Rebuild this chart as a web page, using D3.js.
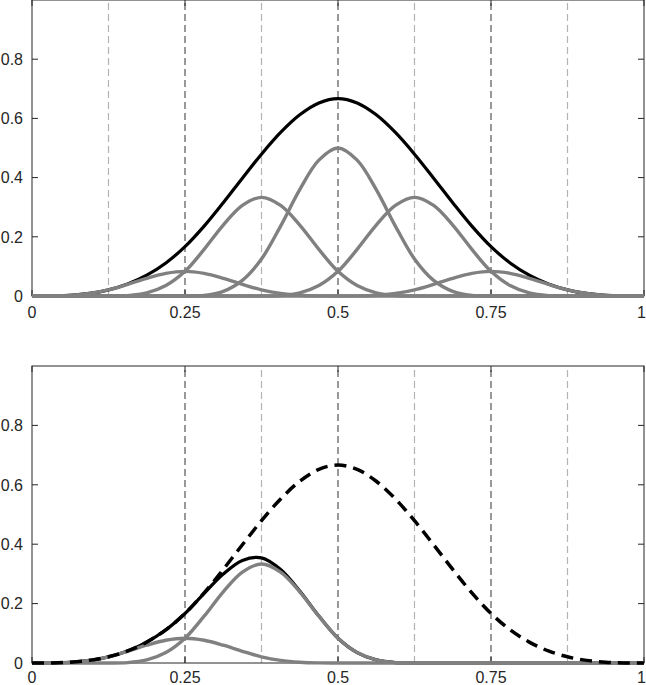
<!DOCTYPE html>
<html>
<head>
<meta charset="utf-8">
<script src="https://cdn.jsdelivr.net/npm/d3@7"></script>
<style>
html,body{margin:0;padding:0;background:#fff;}
svg{display:block;}
text{font-family:"Liberation Sans",Arial,Helvetica,sans-serif;font-size:16px;fill:#262626;}
</style>
</head>
<body>
<svg id="chart" width="646" height="685"></svg>
<script>
// ---- data ----
const xs = [0,0.03125,0.0625,0.09375,0.125,0.15625,0.1875,0.21875,0.25,0.28125,0.3125,0.34375,0.375,0.40625,0.4375,0.46875,0.5,
  0.53125,0.5625,0.59375,0.625,0.65625,0.6875,0.71875,0.75,0.78125,0.8125,0.84375,0.875,0.90625,0.9375,0.96875,1];

const parent = [0,0.0003,0.0026,0.0088,0.0208,0.0407,0.0703,0.1117,0.1667,0.2360,0.3151,0.3981,0.4792,0.5524,0.6120,0.6520,0.6667,
  0.6520,0.6120,0.5524,0.4792,0.3981,0.3151,0.2360,0.1667,0.1117,0.0703,0.0407,0.0208,0.0088,0.0026,0.0003,0];

const child1 = [0,0.0003,0.0026,0.0088,0.0208,0.0394,0.0599,0.0765,0.0833,0.0765,0.0599,0.0394,0.0208,0.0088,0.0026,0.0003,0,
  0,0,0,0,0,0,0,0,0,0,0,0,0,0,0,0];
const child2 = [0,0,0,0,0,0.0013,0.0104,0.0352,0.0833,0.1576,0.2396,0.3060,0.3333,0.3060,0.2396,0.1576,0.0833,
  0.0352,0.0104,0.0013,0,0,0,0,0,0,0,0,0,0,0,0,0];
const child3 = [0,0,0,0,0,0,0,0,0,0.0020,0.0156,0.0527,0.1250,0.2363,0.3594,0.4590,0.5000,
  0.4590,0.3594,0.2363,0.1250,0.0527,0.0156,0.0020,0,0,0,0,0,0,0,0,0];
const child4 = [0,0,0,0,0,0,0,0,0,0,0,0,0,0.0013,0.0104,0.0352,0.0833,
  0.1576,0.2396,0.3060,0.3333,0.3060,0.2396,0.1576,0.0833,0.0352,0.0104,0.0013,0,0,0,0,0];
const child5 = [0,0,0,0,0,0,0,0,0,0,0,0,0,0,0,0,0,
  0.0003,0.0026,0.0088,0.0208,0.0394,0.0599,0.0765,0.0833,0.0765,0.0599,0.0394,0.0208,0.0088,0.0026,0.0003,0];

const partialSum = [0,0.0003,0.0026,0.0088,0.0208,0.0407,0.0703,0.1117,0.1667,0.2341,0.2995,0.3454,0.3541,0.3148,0.2422,0.1579,0.0833,
  0.0352,0.0104,0.0013,0,0,0,0,0,0,0,0,0,0,0,0,0];

const xTicks = [0,0.25,0.5,0.75,1];
const xTickLabels = ["0","0.25","0.5","0.75","1"];
const yTicks = [0,0.2,0.4,0.6,0.8];
const yTickLabels = ["0","0.2","0.4","0.6","0.8"];

const coarseKnots = [0.25,0.5,0.75];
const fineKnotsTop = [0.125,0.375,0.625,0.875];
const fineKnotsBottom = [0.375,0.625,0.875];

// ---- drawing ----
const svg = d3.select("#chart");
const x = d3.scaleLinear().domain([0,1]).range([32,644]);

function panel(yTop, yBottom, labelY, cfg){
  const y = d3.scaleLinear().domain([0,1]).range([yBottom, yTop]);
  const g = svg.append("g");
  g.selectAll(".fk").data(cfg.fine).enter().append("line")
    .attr("x1", d=>x(d)).attr("x2", d=>x(d)).attr("y1", y(0)).attr("y2", y(1))
    .attr("stroke","#b3b3b3").attr("stroke-width",1.2).attr("stroke-dasharray","7,4");
  g.selectAll(".ck").data(coarseKnots).enter().append("line")
    .attr("x1", d=>x(d)).attr("x2", d=>x(d)).attr("y1", y(0)).attr("y2", y(1))
    .attr("stroke","#555").attr("stroke-width",1.2).attr("stroke-dasharray","7,4");

  const line = d3.line().x((d,i)=>x(xs[i])).y(d=>y(d)).curve(d3.curveCatmullRom);

  g.append("rect").attr("x", x(0)).attr("y", y(1)).attr("width", x(1)-x(0)).attr("height", y(0)-y(1))
    .attr("fill","none").attr("stroke","#262626").attr("stroke-width",1);

  yTicks.forEach(v=>{
    g.append("line").attr("x1",x(0)).attr("x2",x(0)+6).attr("y1",y(v)).attr("y2",y(v)).attr("stroke","#262626");
    g.append("line").attr("x1",x(1)).attr("x2",x(1)-6).attr("y1",y(v)).attr("y2",y(v)).attr("stroke","#262626");
  });
  xTicks.forEach(v=>{
    g.append("line").attr("x1",x(v)).attr("x2",x(v)).attr("y1",y(0)).attr("y2",y(0)-6).attr("stroke","#262626");
    g.append("line").attr("x1",x(v)).attr("x2",x(v)).attr("y1",y(1)).attr("y2",y(1)+6).attr("stroke","#262626");
  });

  cfg.black.forEach(s=>{
    g.append("path").attr("d", line(s)).attr("fill","none").attr("stroke","#000").attr("stroke-width",3.2);
  });
  cfg.gray.forEach(s=>{
    g.append("path").attr("d", line(s)).attr("fill","none").attr("stroke","#808080").attr("stroke-width",3.4);
  });
  cfg.dashed.forEach(s=>{
    g.append("path").attr("d", line(s)).attr("fill","none").attr("stroke","#000").attr("stroke-width",3.5)
      .attr("stroke-dasharray","12,7");
  });

  g.selectAll(".yl").data(yTicks).enter().append("text")
    .attr("x", 23).attr("y", d=>y(d)).attr("dy","0.36em").attr("text-anchor","end")
    .text((d,i)=>yTickLabels[i]);
  g.selectAll(".xl").data(xTicks).enter().append("text")
    .attr("x", (d,i)=> i===xTicks.length-1 ? 646 : x(d))
    .attr("y", labelY)
    .attr("text-anchor",(d,i)=> i===xTicks.length-1 ? "end" : "middle")
    .text((d,i)=>xTickLabels[i]);
}

panel(0, 296, 318, {fine: fineKnotsTop, black:[parent], gray:[child1,child2,child3,child4,child5], dashed:[]});
panel(366, 663, 683, {fine: fineKnotsBottom, black:[partialSum], gray:[child1,child2], dashed:[parent]});
</script>
</body>
</html>
